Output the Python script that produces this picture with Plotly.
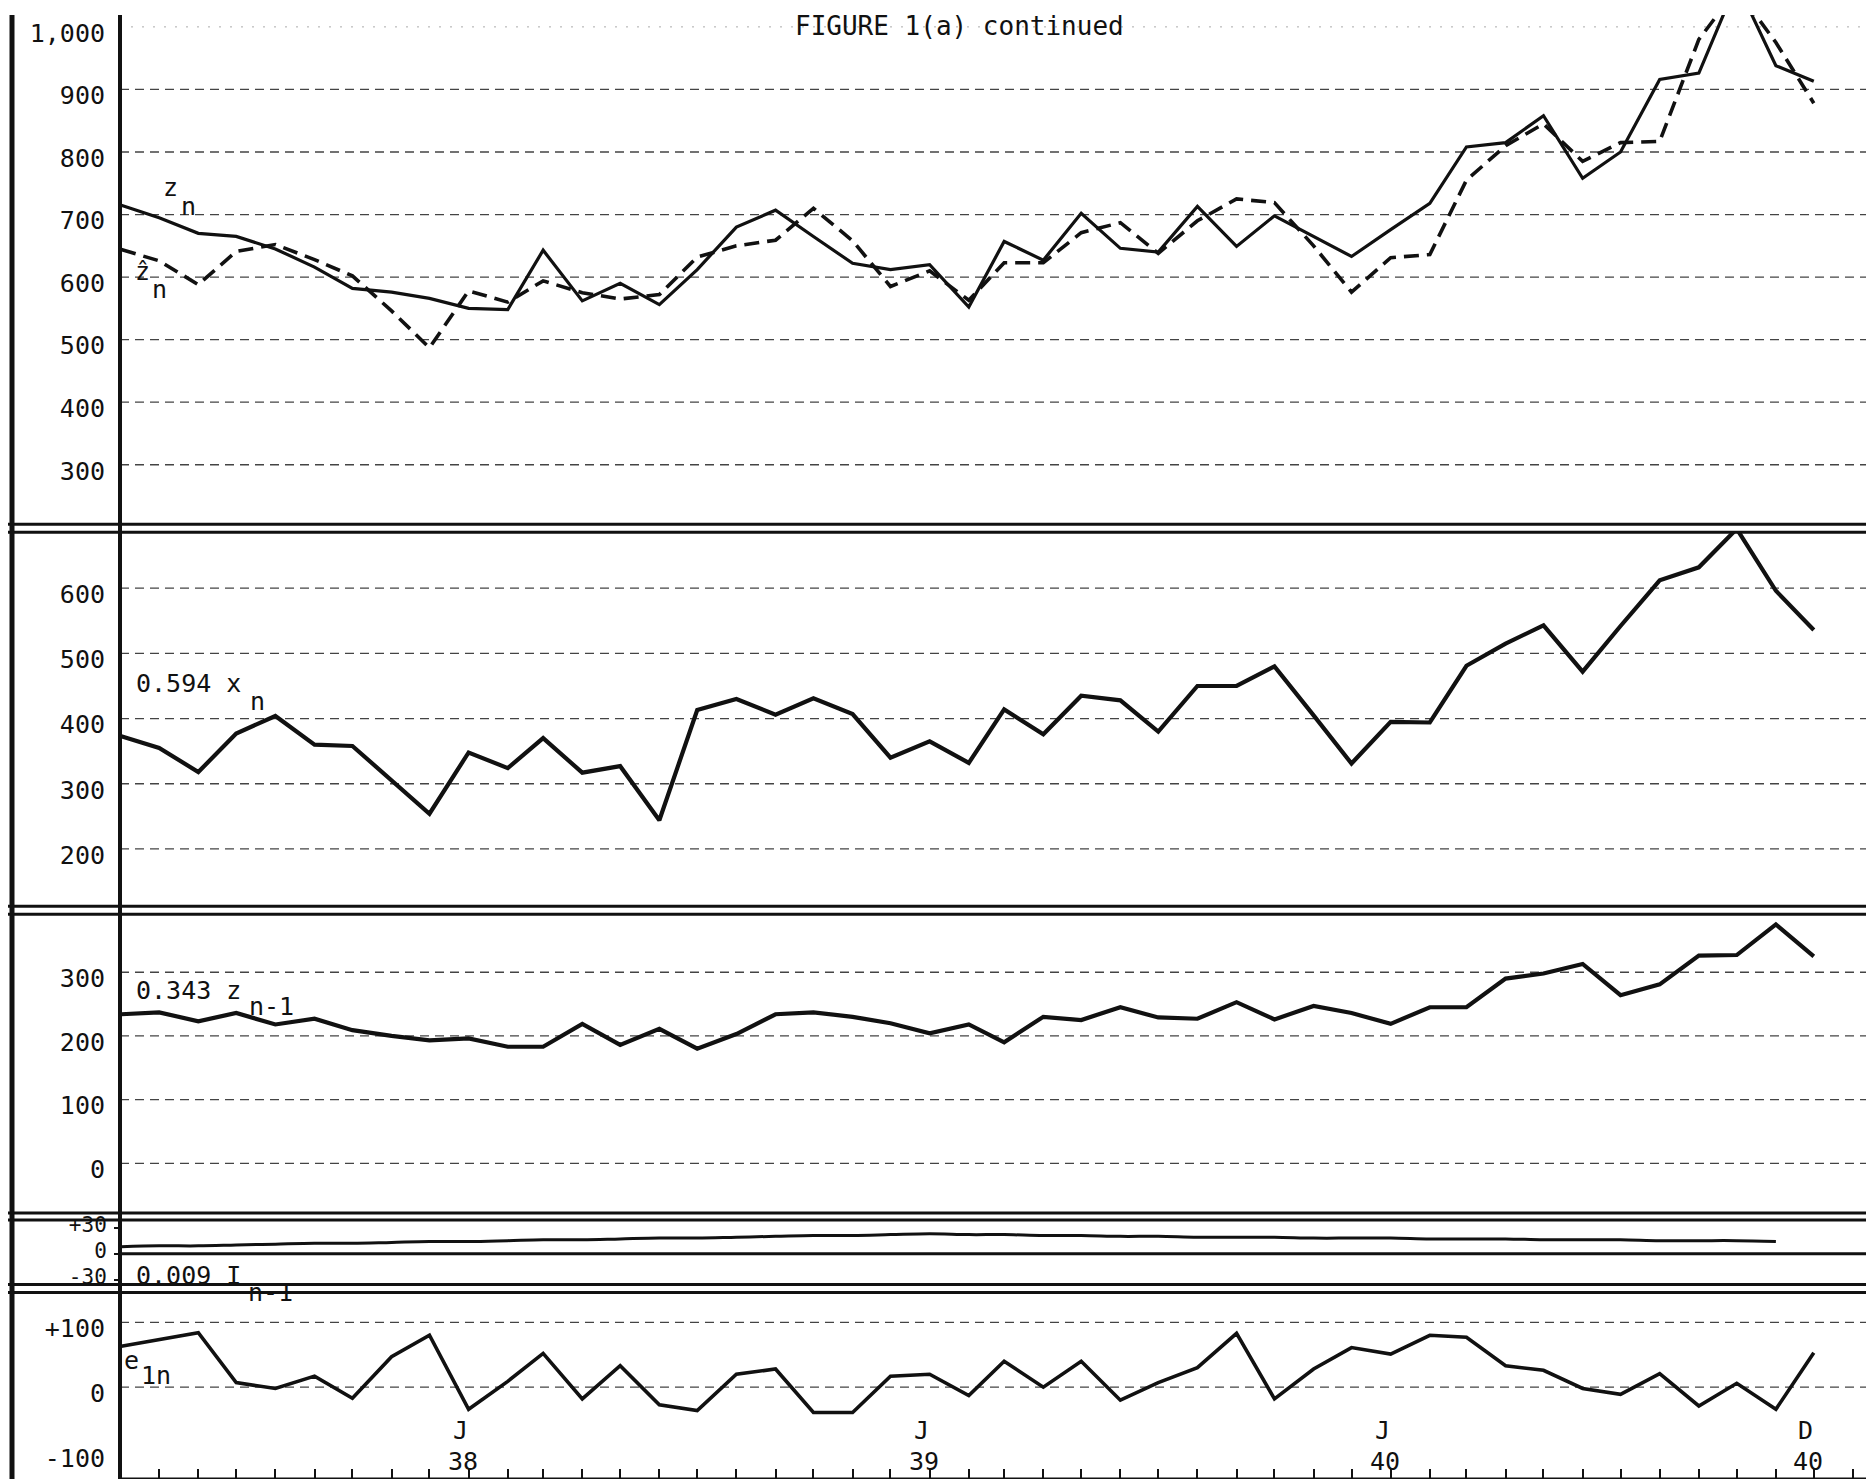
import plotly.graph_objects as go
import pandas as pd

W, H = 1874, 1479

# ---------------- data ----------------
months = pd.date_range("1937-04-01", periods=45, freq="MS")   # Apr 1937 .. Dec 1940

z_n = [715, 695, 670, 665, 645, 616, 582, 576, 566, 550, 548, 643, 562, 590, 556,
       612, 680, 707, 665, 622, 612, 620, 552, 657, 627, 702, 646, 640, 713, 649,
       698, 665, 633, 676, 718, 808, 815, 858, 758, 800, 916, 926, 1070, 938, 913]

z_hat = [644, 626, 588, 641, 652, 628, 602, 546, 487, 578, 560, 594, 575, 565, 572,
         632, 650, 659, 710, 658, 585, 610, 563, 623, 623, 671, 687, 638, 690, 725,
         719, 650, 576, 631, 636, 755, 810, 845, 785, 815, 817, 980, 1060, 975, 878]

x_term = [373, 355, 318, 377, 404, 360, 358, 306, 254, 348, 324, 370, 317, 327, 244,
          413, 430, 406, 431, 407, 340, 365, 332, 414, 376, 435, 428, 380, 450, 450,
          480, 405, 331, 395, 394, 481, 515, 543, 472, 542, 612, 632, 691, 596, 536]

z_lag = [234, 237, 223, 236, 218, 227, 209, 200, 193, 196, 183, 183, 219, 186, 211,
         180, 203, 234, 237, 230, 220, 204, 218, 190, 230, 225, 245, 229, 227, 253,
         226, 247, 236, 219, 245, 245, 290, 298, 313, 264, 281, 326, 327, 375, 325]

i_term = [8, 9, 9, 10, 11, 12, 12, 13, 14, 14, 15, 16, 16, 17, 18, 18, 19, 20, 21, 21,
          22, 23, 22, 22, 21, 21, 20, 20, 19, 19, 19, 18, 18, 18, 17, 17, 17, 16, 16, 16,
          15, 15, 15, 14]

e_1n = [63, 74, 84, 7, -2, 17, -17, 47, 80, -34, 9, 52, -18, 33, -27, -36, 20, 28, -39,
        -39, 17, 20, -13, 40, 0, 40, -20, 7, 30, 83, -18, 28, 61, 51, 80, 77, 33, 26, -2,
        -11, 21, -29, 6, -34, 53]

ticks1 = [300, 400, 500, 600, 700, 800, 900, 1000]
labels1 = ["300", "400", "500", "600", "700", "800", "900", "1,000"]
ticks2 = [200, 300, 400, 500, 600]
labels2 = ["200", "300", "400", "500", "600"]
ticks3 = [0, 100, 200, 300]
labels3 = ["0", "100", "200", "300"]
ticks4 = [-30, 0, 30]
labels4 = ["-30", "0", "+30"]
ticks5 = [-100, 0, 100]
labels5 = ["-100", "0", "+100"]
grid1 = [300, 400, 500, 600, 700, 800, 900]
grid5 = [0, 100]

date_marks = ["1938-01-01", "1939-01-01", "1940-01-01", "1940-12-01"]
date_top = ["J", "J", "J", "D"]
date_bot = ["38", "39", "40", "40"]

# ---------------- layout helpers (pixel geometry) ----------------
AX = 112                      # y-axis position in px
FONT = "DejaVu Sans Mono, Liberation Mono, monospace"


def px(x):
    return x / W


def py(y):
    return 1 - y / H


# panel pixel boxes (top, bottom) and value ranges
panels = [
    dict(top=0, bot=513, rng=[205, 1019]),
    dict(top=521, bot=898, rng=[112, 686]),
    dict(top=906, bot=1207, rng=[-78, 391]),
    dict(top=1214, bot=1279, rng=[-35.6, 38.9]),
    dict(top=1287, bot=1475, rng=[-141.5, 146]),
]

fig = go.Figure()

black = "#111"
fig.add_trace(go.Scatter(x=months, y=z_n, mode="lines", xaxis="x", yaxis="y",
                         line=dict(color=black, width=3.2), showlegend=False))
fig.add_trace(go.Scatter(x=months, y=z_hat, mode="lines", xaxis="x", yaxis="y",
                         line=dict(color=black, width=3.6, dash="15px,8px"), showlegend=False))
fig.add_trace(go.Scatter(x=months, y=x_term, mode="lines", xaxis="x2", yaxis="y2",
                         line=dict(color=black, width=4.2), showlegend=False))
fig.add_trace(go.Scatter(x=months, y=z_lag, mode="lines", xaxis="x3", yaxis="y3",
                         line=dict(color=black, width=4.2), showlegend=False))
fig.add_trace(go.Scatter(x=months[:len(i_term)], y=i_term, mode="lines", xaxis="x4", yaxis="y4",
                         line=dict(color=black, width=3, shape="spline"), showlegend=False))
fig.add_trace(go.Scatter(x=months, y=e_1n, mode="lines", xaxis="x5", yaxis="y5",
                         line=dict(color=black, width=3.6), showlegend=False))

xrange = ["1937-03-31", "1941-01-24"]
tick_sets = [(ticks1, labels1), (ticks2, labels2), (ticks3, labels3),
             (ticks4, labels4), (ticks5, labels5)]

layout = dict(width=W, height=H, margin=dict(l=0, r=0, t=0, b=0),
              paper_bgcolor="white", plot_bgcolor="white", showlegend=False)

for i, p in enumerate(panels, start=1):
    sx = "" if i == 1 else str(i)
    tv, tt = tick_sets[i - 1]
    small = (i == 4)
    layout["xaxis" + sx] = dict(
        domain=[px(AX), 1], range=xrange, type="date", anchor="y" + sx,
        showgrid=False, zeroline=False, showline=False,
        showticklabels=False, ticks="",
        **({} if i == 1 else dict(matches="x")))
    layout["yaxis" + sx] = dict(
        domain=[py(p["bot"]), py(p["top"])], range=p["rng"], anchor="x" + sx,
        showgrid=False, zeroline=False, showline=False,
        tickmode="array", tickvals=tv, ticktext=tt,
        ticks="outside" if small else "", ticklen=5, tickwidth=2, tickcolor=black,
        ticklabelstandoff=3 if small else 14,
        ticklabelshift=-3 if small else 6,
        ticklabeloverflow="allow",
        tickfont=dict(family=FONT, size=21 if small else 25, color=black))

# bottom time axis ticks
layout["xaxis5"].update(ticks="inside", ticklen=10, tickwidth=2, tickcolor=black,
                        dtick="M1", tick0="1937-04-01")

shapes = []
# gridlines
grids = [grid1, ticks2, ticks3, [], grid5]
for i, g in enumerate(grids, start=1):
    sy = "y" if i == 1 else "y" + str(i)
    for v in g:
        shapes.append(dict(type="line", xref="paper", yref=sy, x0=px(AX), x1=1, y0=v, y1=v,
                           line=dict(color="#444", width=1.3, dash="9px,6px"), layer="below"))
# faint top gridline (1,000)
shapes.append(dict(type="line", xref="paper", yref="y", x0=px(AX), x1=1, y0=1000, y1=1000,
                   line=dict(color="#aaa", width=1, dash="2px,9px"), layer="below"))
# zero line of the small panel
shapes.append(dict(type="line", xref="paper", yref="y4", x0=px(AX), x1=1, y0=0, y1=0,
                   line=dict(color=black, width=3)))

# double separator lines between panels
for yy in [513, 521, 898, 906, 1207, 1214, 1279, 1287]:
    shapes.append(dict(type="line", xref="paper", yref="paper", x0=0, x1=1,
                       y0=py(yy), y1=py(yy), line=dict(color=black, width=3)))
# bottom axis line
shapes.append(dict(type="line", xref="paper", yref="paper", x0=px(AX), x1=1,
                   y0=py(1475), y1=py(1475), line=dict(color=black, width=3)))
# vertical axis and left border
shapes.append(dict(type="line", xref="paper", yref="paper", x0=px(AX), x1=px(AX),
                   y0=0, y1=1, line=dict(color=black, width=4)))
shapes.append(dict(type="line", xref="paper", yref="paper", x0=px(4), x1=px(4),
                   y0=0, y1=1, line=dict(color=black, width=5)))
layout["shapes"] = shapes

ann = []


def text(x, y, s, size=25, anchor="left"):
    ann.append(dict(x=px(x), y=py(y), xref="paper", yref="paper", text=s, showarrow=False,
                    xanchor=anchor, yanchor="middle",
                    font=dict(family=FONT, size=size, color=black)))


ann.append(dict(x=px(951), y=1, xref="paper", yref="paper", text="FIGURE 1(a) continued",
                showarrow=False, xanchor="center", yanchor="top", yshift=6,
                font=dict(family=FONT, size=26, color=black)))
# z_n label
text(162, 174, "z", anchor="center")
text(180, 193, "n", anchor="center")
# z-hat label
text(134, 258, "ẑ", anchor="center")
text(151, 277, "n", anchor="center")
# panel labels
text(126, 674, "0.594 x")
text(240, 692, "n")
text(126, 983, "0.343 z")
text(239, 999, "n-1")
text(126, 1270, "0.009 I")
text(238, 1287, "n-1")
text(114, 1356, "e")
text(131, 1371, "1n")

# time labels
for d, a, b in zip(date_marks, date_top, date_bot):
    ann.append(dict(x=d, y=py(1426), xref="x5", yref="paper", text=a, showarrow=False,
                    xanchor="center", yanchor="middle", xshift=-8,
                    font=dict(family=FONT, size=25, color=black)))
    ann.append(dict(x=d, y=py(1457), xref="x5", yref="paper", text=b, showarrow=False,
                    xanchor="center", yanchor="middle", xshift=-6,
                    font=dict(family=FONT, size=25, color=black)))
layout["annotations"] = ann

fig.update_layout(**layout)
fig.write_html("out.html")
